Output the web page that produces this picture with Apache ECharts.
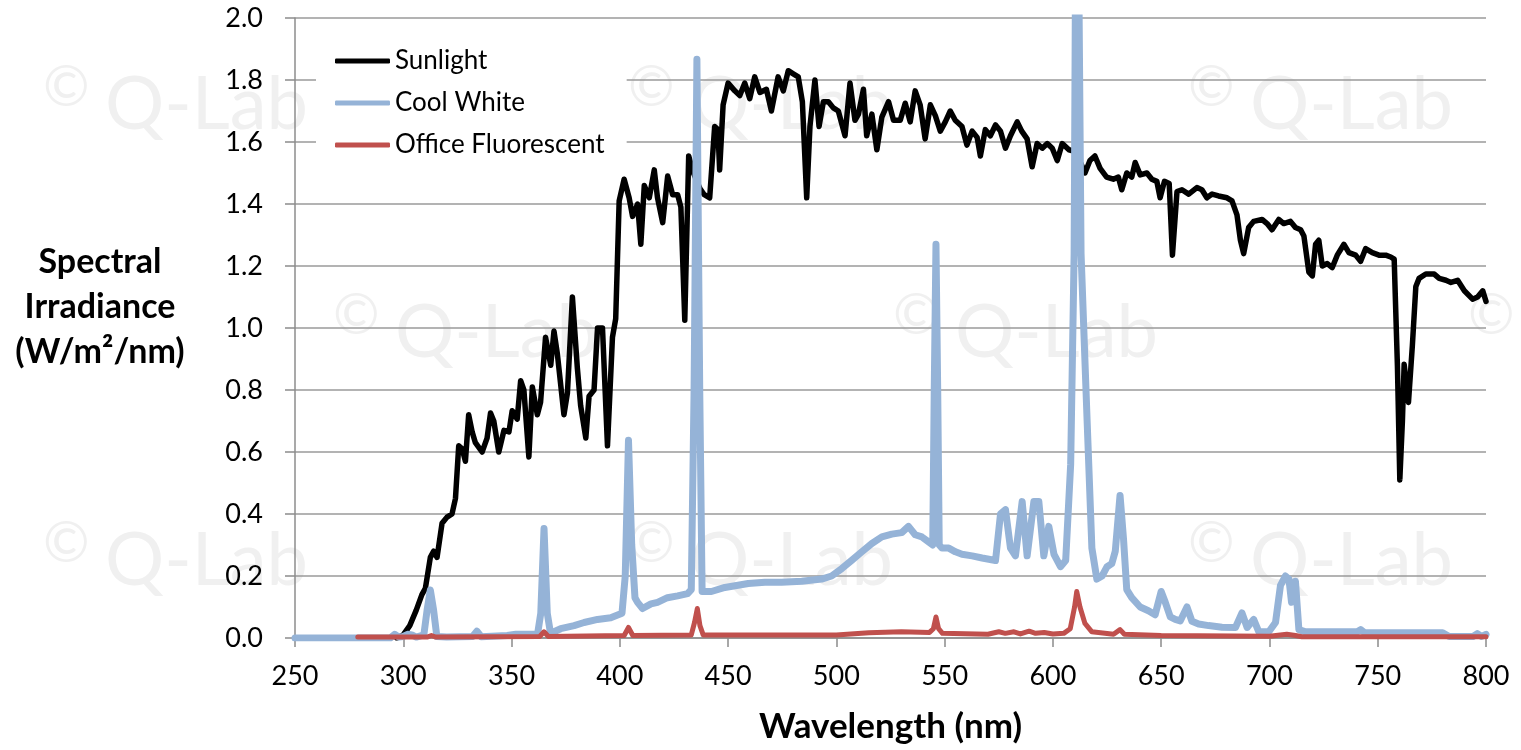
<!DOCTYPE html>
<html>
<head>
<meta charset="utf-8">
<script src="https://cdn.jsdelivr.net/npm/echarts@6/dist/echarts.min.js"></script>
<style>
  html, body { margin: 0; padding: 0; background: #fff; }
  #chart { width: 1521px; height: 750px; }
</style>
</head>
<body>
<div id="chart"></div>
<script>
'use strict';

/*-----------------------------------------------
|   Data (wavelength in nm, irradiance in W/m2/nm)
-----------------------------------------------*/
const sunlight = [
  [297, 0], [300, 0.01], [303, 0.04], [306, 0.09], [308.6, 0.14], [310.2, 0.16],
  [312.5, 0.26], [314, 0.28], [315.6, 0.26], [317.9, 0.37], [320.2, 0.39], [322.5, 0.40],
  [324.1, 0.45], [325.6, 0.62], [327.2, 0.61], [328.7, 0.57], [330.2, 0.72], [331.8, 0.665],
  [333.3, 0.63], [336.4, 0.60], [338.7, 0.645], [340.3, 0.726], [341.8, 0.70], [344.1, 0.60],
  [346.5, 0.67], [348.8, 0.665], [350.3, 0.733], [352.6, 0.706], [354.2, 0.83], [355.7, 0.80],
  [358, 0.584], [359.6, 0.81], [361.9, 0.72], [363.4, 0.76], [365.7, 0.97], [367.3, 0.91],
  [368.1, 0.88], [369.6, 0.99], [371.1, 0.92], [374.2, 0.72], [375.8, 0.79], [378.1, 1.10],
  [380.4, 0.87], [381.9, 0.75], [384.3, 0.645], [385.8, 0.78], [388.1, 0.80], [389.7, 1.0],
  [392, 1.0], [394.3, 0.62], [396.6, 0.97], [398.1, 1.03], [399.7, 1.41], [402, 1.48],
  [404.3, 1.42], [405.9, 1.36], [408.2, 1.40], [409.7, 1.27], [411.3, 1.46], [413.6, 1.42],
  [415.9, 1.51], [417.4, 1.42], [419.8, 1.34], [422.1, 1.49], [424.4, 1.43], [426.7, 1.43],
  [428.2, 1.39], [430, 1.025], [431.8, 1.555], [434, 1.5], [437, 1.45], [439, 1.43],
  [441.5, 1.42], [443.8, 1.65], [445.3, 1.64], [446.1, 1.51], [447.7, 1.72], [450, 1.79],
  [453.1, 1.765], [455.4, 1.75], [457.7, 1.79], [460, 1.74], [462.3, 1.81], [464.7, 1.76],
  [467.7, 1.77], [470, 1.70], [473.1, 1.81], [475.5, 1.765], [477.8, 1.83], [480.1, 1.82],
  [482.4, 1.81], [484.3, 1.73], [486.3, 1.42], [487.8, 1.65], [490.1, 1.80], [492, 1.65],
  [494, 1.73], [496.3, 1.73], [498.6, 1.71], [500.9, 1.70], [504, 1.62], [506.3, 1.79],
  [508.6, 1.67], [510.2, 1.69], [512.5, 1.77], [514, 1.62], [516.4, 1.69], [518.7, 1.575],
  [521, 1.68], [524.1, 1.73], [526.4, 1.67], [529.5, 1.67], [531.8, 1.725], [534.1, 1.665],
  [536.4, 1.765], [538.7, 1.72], [541, 1.61], [543.4, 1.72], [545.7, 1.685], [548, 1.635],
  [550.3, 1.665], [552.6, 1.70], [554.9, 1.67], [558, 1.65], [560.3, 1.59], [562.7, 1.635],
  [565, 1.615], [566.5, 1.555], [568.8, 1.64], [571.1, 1.62], [573.5, 1.655], [575.8, 1.635],
  [578.1, 1.58], [580.4, 1.62], [583.5, 1.665], [585.6, 1.635], [588.1, 1.61], [590.4, 1.52],
  [592.7, 1.595], [595.1, 1.58], [597.4, 1.595], [599.7, 1.58], [602, 1.54], [604.3, 1.595],
  [607.4, 1.575], [610, 1.57], [613, 1.53], [614.8, 1.50], [617.1, 1.54], [619.4, 1.555],
  [621.8, 1.515], [624.8, 1.487], [627.9, 1.48], [630.2, 1.487], [631.8, 1.446], [634.1, 1.50],
  [636.4, 1.487], [638, 1.534], [640.3, 1.494], [643.4, 1.50], [645.7, 1.48], [648, 1.473],
  [649.5, 1.42], [651.5, 1.473], [653.7, 1.466], [655.2, 1.235], [657.3, 1.44], [659.6, 1.446],
  [662.7, 1.432], [666.5, 1.453], [668.8, 1.446], [671.1, 1.42], [673.5, 1.432], [676.5, 1.426],
  [680.4, 1.42], [682.7, 1.41], [685, 1.365], [686.6, 1.283], [688.1, 1.24], [690.4, 1.324],
  [692.7, 1.344], [696.6, 1.35], [698.9, 1.337], [701.2, 1.317], [704.3, 1.35], [706.6, 1.337],
  [709.7, 1.344], [712, 1.324], [714.4, 1.317], [715.9, 1.297], [718.2, 1.18], [719.8, 1.168],
  [721.3, 1.27], [722.8, 1.283], [724.4, 1.20], [726.7, 1.208], [729, 1.195], [731.3, 1.235],
  [734.4, 1.27], [736.7, 1.243], [739.8, 1.235], [742.1, 1.215], [744.4, 1.256], [747.5, 1.243],
  [750.6, 1.235], [753.7, 1.235], [756, 1.229], [757.6, 1.222], [759.1, 0.876], [760.2, 0.51],
  [761.4, 0.70], [762.2, 0.883], [764.2, 0.76], [766, 0.944], [767.6, 1.134], [769.1, 1.16],
  [772.2, 1.174], [776.1, 1.174], [778.4, 1.16], [781.5, 1.154], [783.8, 1.147], [786.9, 1.154],
  [790, 1.12], [793.8, 1.093], [796.1, 1.10], [798.5, 1.12], [800, 1.086]
];

const coolWhite = [
  [250, 0], [294, 0], [296, 0.012], [298, 0.003], [300, 0.005], [302, 0.012], [304, 0.01],
  [306, 0.003], [309.5, 0.01], [311, 0.09], [312.5, 0.155], [314, 0.09], [315.5, 0.005],
  [320, 0.003], [332, 0.005], [334, 0.022], [336, 0.004], [348, 0.008], [352, 0.012],
  [362, 0.012], [363.5, 0.08], [365, 0.353], [366.5, 0.08], [368, 0.015], [369.6, 0.02],
  [372.7, 0.03], [378.9, 0.04], [383.5, 0.05], [389.7, 0.06], [395.8, 0.065], [401, 0.08],
  [402.5, 0.2], [404, 0.638], [405.5, 0.3], [407, 0.13], [408.2, 0.115], [410.5, 0.095],
  [414.4, 0.11], [417.4, 0.115], [422, 0.13], [426.7, 0.136], [431.3, 0.143], [433, 0.156],
  [434.3, 0.8], [435.6, 1.867], [436.9, 0.8], [438, 0.15], [442.3, 0.15], [448.5, 0.163],
  [454.6, 0.17], [459.3, 0.176], [467, 0.18], [474.7, 0.18], [484, 0.183], [493.2, 0.19],
  [497.8, 0.20], [502.5, 0.224], [507, 0.25], [511.7, 0.278], [516.4, 0.305], [521, 0.326],
  [525.6, 0.335], [530.2, 0.34], [533.3, 0.36], [536.4, 0.333], [539.5, 0.326], [542.6, 0.31],
  [544.5, 0.30], [545.2, 0.8], [546, 1.27], [546.8, 0.8], [547.5, 0.3], [548.8, 0.29],
  [551.9, 0.29], [555, 0.278], [558, 0.27], [562.7, 0.265], [567.3, 0.258], [573.5, 0.25],
  [575.8, 0.40], [578.1, 0.414], [580.4, 0.29], [582.7, 0.265], [585.8, 0.44], [588.1, 0.265],
  [591.2, 0.44], [593.5, 0.44], [595.8, 0.265], [598.1, 0.36], [600.5, 0.27], [603.5, 0.23],
  [605.9, 0.25], [608.2, 0.56], [609.8, 1.24], [610.4, 2.1], [611.2, 2.5], [612, 2.1],
  [613, 1.24], [615.8, 0.70], [618, 0.29], [620.3, 0.19], [622.7, 0.20], [625, 0.23],
  [627.2, 0.24], [628.8, 0.28], [631, 0.46], [632.6, 0.32], [634.1, 0.156], [636.4, 0.13],
  [640.3, 0.10], [644.1, 0.088], [647.2, 0.075], [650, 0.15], [651.9, 0.115], [654.2, 0.068],
  [656.5, 0.06], [658.8, 0.055], [661.9, 0.10], [664.2, 0.054], [667.3, 0.045], [671.9, 0.04],
  [678.1, 0.035], [684.3, 0.034], [687.3, 0.081], [689.7, 0.034], [692.7, 0.06], [695.1, 0.02],
  [699.7, 0.02], [702.8, 0.05], [705.1, 0.17], [707.4, 0.20], [709, 0.19], [710.2, 0.115],
  [712, 0.183], [713.6, 0.027], [716.7, 0.02], [729, 0.02], [740.5, 0.02], [742.1, 0.027],
  [744, 0.017], [780, 0.017], [783, 0.005], [794, 0.005], [796, 0.014], [798, 0.005], [800, 0.012]
];

const officeFluorescent = [
  [279, 0.003], [311, 0.003], [313, 0.008], [315, 0.003], [363, 0.005], [365, 0.02],
  [367, 0.005], [402, 0.008], [404, 0.034], [406, 0.008], [433, 0.01], [434.5, 0.05],
  [435.8, 0.095], [437, 0.04], [438.5, 0.01], [500, 0.01], [515, 0.017], [530, 0.02],
  [543, 0.018], [544.8, 0.03], [546, 0.068], [547.2, 0.03], [549, 0.015], [570, 0.012],
  [575, 0.02], [578, 0.015], [582, 0.02], [585, 0.013], [589, 0.022], [592, 0.015],
  [596, 0.018], [600, 0.013], [605, 0.015], [608, 0.03], [610, 0.10], [611, 0.15],
  [612.5, 0.10], [614.8, 0.047], [618, 0.02], [628, 0.012], [631, 0.027], [633, 0.012],
  [650, 0.008], [700, 0.006], [708, 0.012], [712, 0.008], [715, 0.004], [800, 0.004]
];

const seriesNames = ['Sunlight', 'Cool White', 'Office Fluorescent'];
const seriesColors = ['#000000', '#95b3d7', '#c0504d'];
const seriesWidths = [5.5, 7, 5];

// watermark anchor points (left of "Q-Lab", vertical centre)
const marks = [
  [105, 112], [690, 112], [1250, 112],
  [395, 340], [955, 340], [1530, 340],
  [105, 568], [690, 568], [1250, 568]
];

const FONT = 'Lato, "Open Sans", sans-serif';

const graphics = [];
marks.forEach(([x, y]) => {
  graphics.push({
    type: 'text', left: x - 62, top: y - 52, z: -10, silent: true,
    style: { text: '\u00a9', font: '56px ' + FONT, fill: '#f0f0f0' }
  });
  graphics.push({
    type: 'text', left: x, top: y - 44, z: -10, silent: true,
    style: { text: 'Q-Lab', font: '74px ' + FONT, fill: '#f0f0f0' }
  });
});

// y axis title, centred over its own column
graphics.push({
  type: 'text', x: 100, y: 307, silent: true,
  style: {
    text: 'Spectral\nIrradiance\n(W/m\u00b2/nm)',
    font: 'bold 34px ' + FONT, fill: '#000', lineHeight: 45,
    align: 'center', verticalAlign: 'middle'
  }
});

const chart = echarts.init(document.getElementById('chart'));

chart.setOption({
  backgroundColor: '#fff',
  animation: false,
  textStyle: { fontFamily: FONT },
  graphic: graphics,
  grid: { left: 295, right: 35, top: 18, bottom: 112 },
  legend: {
    data: seriesNames,
    orient: 'vertical',
    left: 316,
    top: 36,
    padding: [10, 22, 10, 19],
    backgroundColor: '#fff',
    icon: 'roundRect',
    itemWidth: 55,
    itemHeight: 5,
    itemGap: 12,
    textStyle: { fontSize: 26, color: '#000', lineHeight: 30, fontFamily: FONT }
  },
  xAxis: {
    type: 'value',
    min: 250,
    max: 800,
    interval: 50,
    name: 'Wavelength (nm)',
    nameLocation: 'middle',
    nameGap: 71,
    nameTextStyle: { fontSize: 35, fontWeight: 'bold', color: '#000', fontFamily: FONT },
    axisLine: { lineStyle: { color: '#8c8c8c', width: 1.5 } },
    axisTick: { show: true, length: 9, lineStyle: { color: '#8c8c8c', width: 1.5 } },
    axisLabel: { fontSize: 27, color: '#000', margin: 25 },
    splitLine: { show: false }
  },
  yAxis: {
    type: 'value',
    min: 0,
    max: 2,
    interval: 0.2,
    axisLine: { show: true, lineStyle: { color: '#8c8c8c', width: 1.5 } },
    axisTick: { show: true, length: 10, lineStyle: { color: '#8c8c8c', width: 1.5 } },
    axisLabel: { fontSize: 27, color: '#000', margin: 32, formatter: (v) => v.toFixed(1) },
    splitLine: { show: true, lineStyle: { color: '#9a9a9a', width: 1.5 } }
  },
  series: [sunlight, coolWhite, officeFluorescent].map((data, i) => ({
    name: seriesNames[i],
    type: 'line',
    data: data,
    showSymbol: false,
    symbol: 'none',
    clip: true,
    z: 2 + i,
    color: seriesColors[i],
    lineStyle: { color: seriesColors[i], width: seriesWidths[i], cap: 'round', join: 'round' }
  }))
});
</script>
</body>
</html>
